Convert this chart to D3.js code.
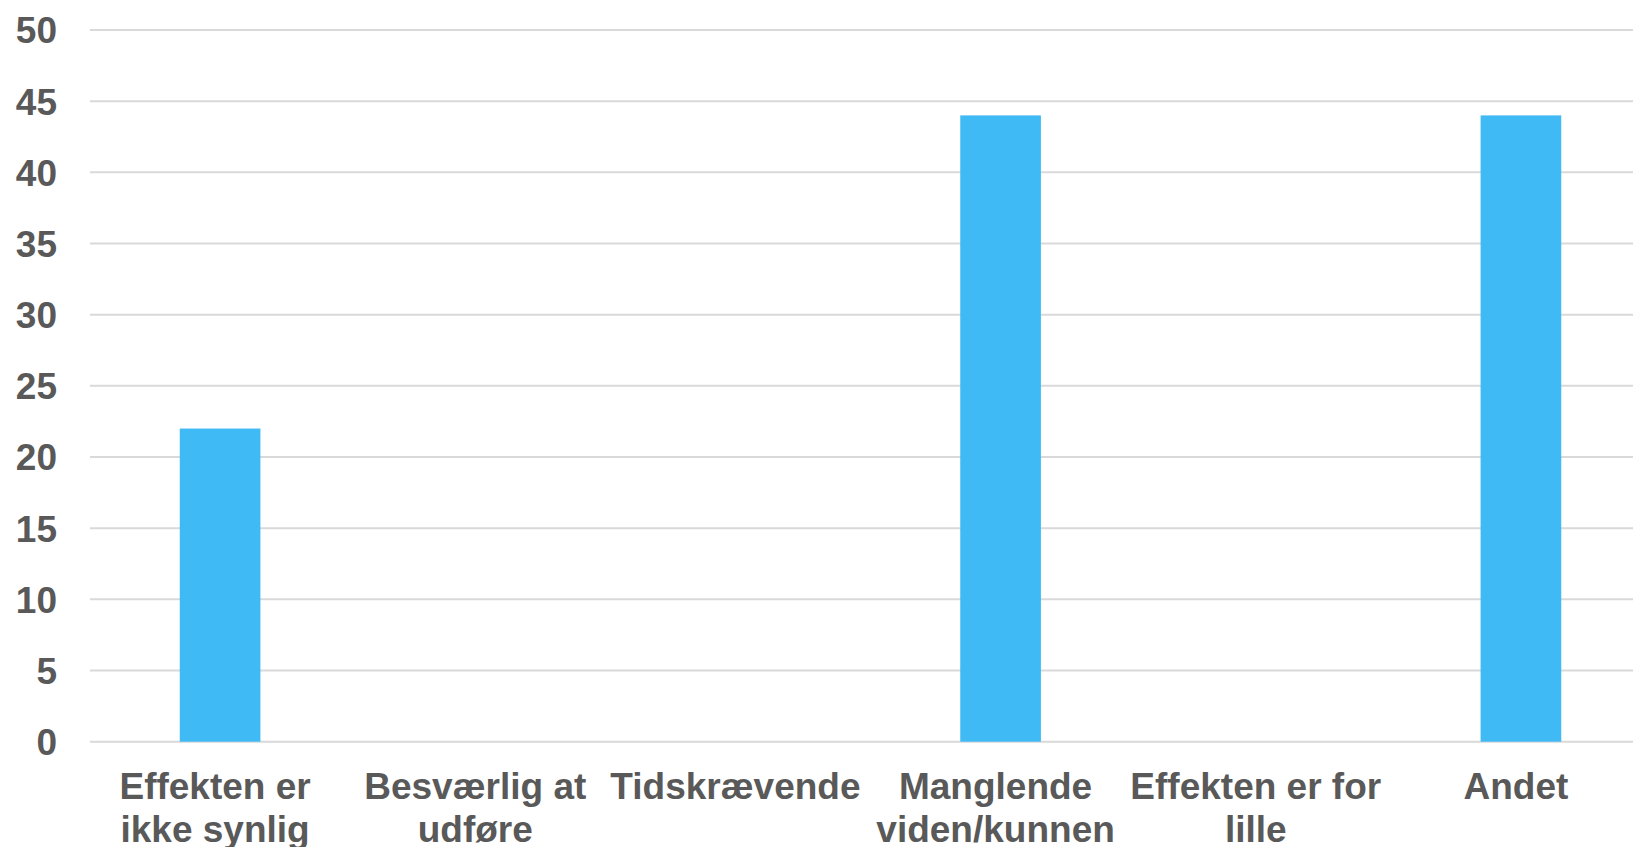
<!DOCTYPE html>
<html>
<head>
<meta charset="utf-8">
<script src="https://cdn.jsdelivr.net/npm/d3@7"></script>
<style>
  html, body { margin: 0; padding: 0; background: #ffffff; overflow: hidden; }
  svg { display: block; }
</style>
</head>
<body>
<svg id="chart" width="1633" height="847"></svg>
<script>
const categories = ["Effekten er ikke synlig", "Besværlig at udføre", "Tidskrævende", "Manglende viden/kunnen", "Effekten er for lille", "Andet"];
const values = [22, 0, 0, 44, 0, 44];
const yTicks = [0, 5, 10, 15, 20, 25, 30, 35, 40, 45, 50];

const svg = d3.select("#chart");
const W = 1633;
const font = "'Liberation Sans', Arial, sans-serif";
const textColor = "#595959";

const x = d3.scaleBand().domain(categories).range([90, 1651]).paddingInner(0.69).paddingOuter(0.345);
const y = d3.scaleLinear().domain([0, 50]).range([741.7, 30]);

// gridlines
svg.append("g").selectAll("line").data(yTicks).join("line")
  .attr("x1", 90).attr("x2", W)
  .attr("y1", d => y(d)).attr("y2", d => y(d))
  .attr("stroke", "#D9D9D9").attr("stroke-width", 2);

// y axis labels
const yAxis = d3.axisLeft(y).tickValues(yTicks).tickSize(0).tickPadding(0);
const gy = svg.append("g").attr("transform", "translate(57,0)").call(yAxis);
gy.select(".domain").remove();
gy.selectAll("text")
  .attr("font-family", font).attr("font-size", 37).attr("font-weight", "bold")
  .attr("fill", textColor).attr("dy", "0.35em");

// bars
svg.append("g").selectAll("rect").data(categories).join("rect")
  .attr("x", d => x(d))
  .attr("width", x.bandwidth())
  .attr("y", (d, i) => y(values[i]))
  .attr("height", (d, i) => y(0) - y(values[i]))
  .attr("fill", "#3FBAF5");

// x labels with wrapping
const step = x.step();
const labels = svg.append("g").selectAll("text").data(categories).join("text")
  .attr("font-family", font).attr("font-size", 37).attr("font-weight", "bold")
  .attr("fill", textColor).attr("text-anchor", "middle");

labels.each(function(d) {
  const t = d3.select(this);
  const cx = x(d) + x.bandwidth() / 2 - 5;
  const words = d.split(" ");
  let lines = [];
  let cur = [];
  const probe = t.append("tspan");
  words.forEach(w => {
    const test = cur.concat([w]).join(" ");
    probe.text(test);
    if (probe.node().getComputedTextLength() > 258 && cur.length) {
      lines.push(cur.join(" "));
      cur = [w];
    } else {
      cur.push(w);
    }
  });
  lines.push(cur.join(" "));
  probe.remove();
  lines.forEach((ln, i) => {
    t.append("tspan").attr("x", cx).attr("y", 799 + i * 43).text(ln);
  });
});
</script>
</body>
</html>
